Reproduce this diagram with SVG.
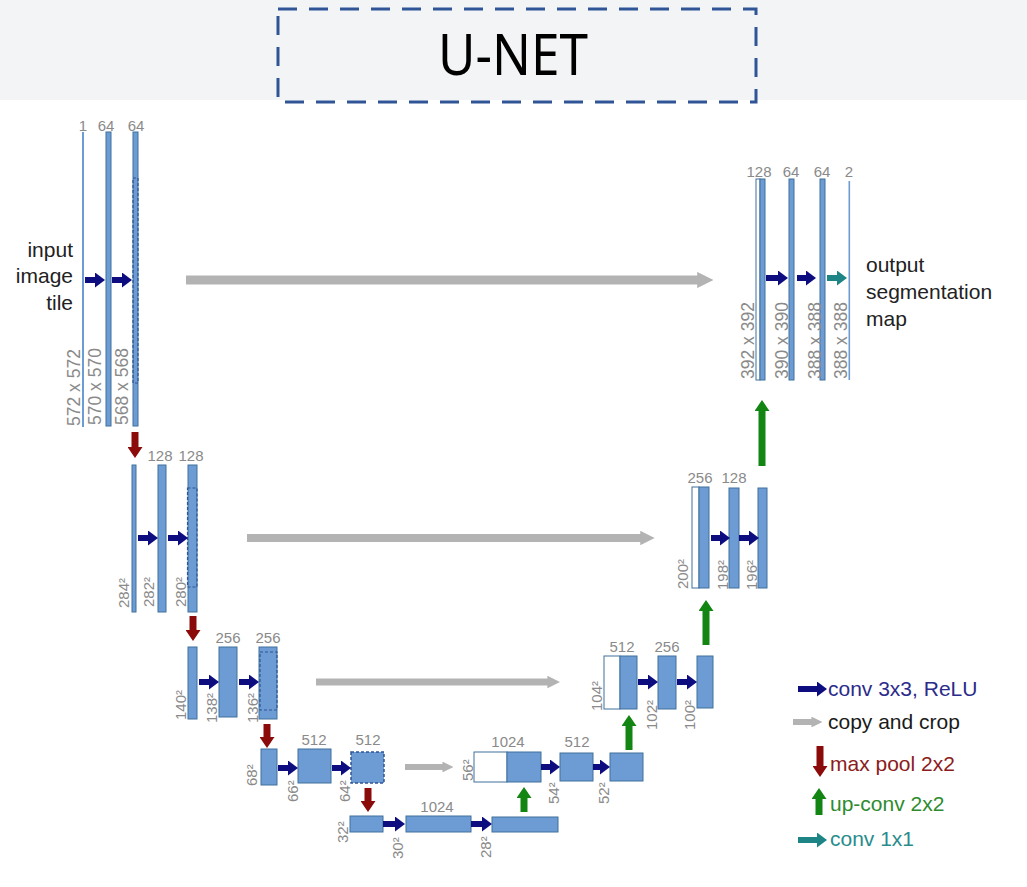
<svg xmlns="http://www.w3.org/2000/svg" width="1027" height="887" viewBox="0 0 1027 887">
<style>
.bar{fill:#6d9bd3;stroke:#41719c;stroke-width:1}
.thin{fill:#6d9bd3}
.wht{fill:#ffffff;stroke:#41719c;stroke-width:1}
.dash{fill:none;stroke:#2f5597;stroke-width:1.2;stroke-dasharray:3 2}
.dashbar{fill:#6d9bd3;stroke:#2f5597;stroke-width:1.5;stroke-dasharray:3 2}
.ch{font-family:"Liberation Sans",Arial,sans-serif;font-size:15px;fill:#8a8a8a;text-anchor:middle}
.v{font-family:"Liberation Sans",Arial,sans-serif;font-size:15px;fill:#8a8a8a}
.vb{font-family:"Liberation Sans",Arial,sans-serif;font-size:17.5px;fill:#8a8a8a}
.side{font-family:"Liberation Sans",Arial,sans-serif;font-size:21px;fill:#222}
.leg{font-family:"Liberation Sans",Arial,sans-serif;font-size:21px}
.conv{stroke:#0d0d80;stroke-width:6;fill:none;marker-end:url(#mConv)}
.c11{stroke:#1d8585;stroke-width:6;fill:none;marker-end:url(#mTeal)}
.pool{stroke:#8b0a0a;stroke-width:7;fill:none;marker-end:url(#mPool)}
.up{stroke:#138513;stroke-width:7;fill:none;marker-end:url(#mUp)}
.copy{stroke:#b3b3b3;fill:none;marker-end:url(#mCopy)}
</style>
<defs>
<marker id="mConv" markerUnits="userSpaceOnUse" markerWidth="10" markerHeight="15" viewBox="0 0 10 15" refX="1" refY="7.5" orient="auto"><path d="M0,0 L10,7.5 L0,15 z" fill="#0d0d80"/></marker>
<marker id="mTeal" markerUnits="userSpaceOnUse" markerWidth="10" markerHeight="15" viewBox="0 0 10 15" refX="1" refY="7.5" orient="auto"><path d="M0,0 L10,7.5 L0,15 z" fill="#1d8585"/></marker>
<marker id="mPool" markerUnits="userSpaceOnUse" markerWidth="11" markerHeight="15" viewBox="0 0 11 15" refX="1" refY="7.5" orient="auto"><path d="M0,0 L11,7.5 L0,15 z" fill="#8b0a0a"/></marker>
<marker id="mUp" markerUnits="userSpaceOnUse" markerWidth="11" markerHeight="15" viewBox="0 0 11 15" refX="1" refY="7.5" orient="auto"><path d="M0,0 L11,7.5 L0,15 z" fill="#138513"/></marker>
<marker id="mCopy" markerUnits="strokeWidth" markerWidth="1.8" markerHeight="1.8" viewBox="0 0 10 10" refX="0.5" refY="5" orient="auto"><path d="M0,0 L10,5 L0,10 z" fill="#b3b3b3"/></marker>
</defs>
<rect x="0" y="0" width="1027" height="887" fill="#ffffff"/>
<rect x="0" y="0" width="1027" height="100" fill="#f3f4f6"/>
<g id="title">
<rect x="278" y="9" width="478" height="93" fill="none" stroke="#2f5597" stroke-width="3" stroke-dasharray="19 12"/>
<text x="513" y="75" text-anchor="middle" font-family="'Noto Sans','Open Sans',sans-serif" font-size="57" fill="#000" textLength="150" lengthAdjust="spacingAndGlyphs">U-NET</text>
</g>

<g id="level1-left">
<rect class="thin" x="82" y="132" width="2" height="295"/>
<rect class="bar" x="106" y="132" width="5" height="294"/>
<rect class="bar" x="133" y="132" width="5" height="294"/>
<rect class="dash" x="133" y="178" width="5" height="205"/>
<text class="ch" x="83" y="131">1</text>
<text class="ch" x="106" y="131">64</text>
<text class="ch" x="136" y="131">64</text>
<text class="vb" transform="translate(80,426) rotate(-90)">572 x 572</text>
<text class="vb" transform="translate(101,425) rotate(-90)">570 x 570</text>
<text class="vb" transform="translate(128,425) rotate(-90)">568 x 568</text>
<text class="side" text-anchor="end" x="73" y="257">input</text>
<text class="side" text-anchor="end" x="73" y="283">image</text>
<text class="side" text-anchor="end" x="73" y="310">tile</text>
</g>

<g id="level2-left">
<rect class="bar" x="132" y="465" width="4" height="147"/>
<rect class="bar" x="158" y="465" width="8" height="147"/>
<rect class="bar" x="188" y="465" width="9" height="147"/>
<rect class="dash" x="187.5" y="488" width="9.5" height="99"/>
<text class="ch" x="160" y="461">128</text>
<text class="ch" x="191" y="461">128</text>
<text class="v" transform="translate(129,608) rotate(-90)">284²</text>
<text class="v" transform="translate(154,607) rotate(-90)">282²</text>
<text class="v" transform="translate(186,607) rotate(-90)">280²</text>
</g>

<g id="level3-left">
<rect class="bar" x="188" y="647" width="9" height="72"/>
<rect class="bar" x="219" y="647" width="18" height="70"/>
<rect class="bar" x="259" y="647" width="18" height="72"/>
<rect class="dash" x="260" y="652" width="17" height="58"/>
<text class="ch" x="228" y="643">256</text>
<text class="ch" x="268" y="643">256</text>
<text class="v" transform="translate(186,720) rotate(-90)">140²</text>
<text class="v" transform="translate(217,723) rotate(-90)">138²</text>
<text class="v" transform="translate(258,723) rotate(-90)">136²</text>
</g>

<g id="level4-left">
<rect class="bar" x="261" y="749" width="16" height="36"/>
<rect class="bar" x="298" y="749" width="33" height="34"/>
<rect class="dashbar" x="351" y="752" width="33" height="31"/>
<text class="ch" x="314" y="745">512</text>
<text class="ch" x="368" y="745">512</text>
<text class="v" transform="translate(257,786) rotate(-90)">68²</text>
<text class="v" transform="translate(298,802) rotate(-90)">66²</text>
<text class="v" transform="translate(350,802) rotate(-90)">64²</text>
</g>

<g id="bottom">
<rect class="bar" x="350" y="816" width="33" height="16"/>
<rect class="bar" x="406" y="816" width="65" height="16"/>
<rect class="bar" x="492" y="817" width="66" height="15"/>
<text class="ch" x="437" y="812">1024</text>
<text class="v" transform="translate(348,843) rotate(-90)">32²</text>
<text class="v" transform="translate(403,859) rotate(-90)">30²</text>
<text class="v" transform="translate(491,858) rotate(-90)">28²</text>
</g>

<g id="level4-right">
<rect class="wht" x="474" y="752" width="33" height="30"/>
<rect class="bar" x="507" y="752" width="34" height="30"/>
<rect class="bar" x="560" y="753" width="33" height="28"/>
<rect class="bar" x="610" y="753" width="33" height="28"/>
<text class="ch" x="508" y="747">1024</text>
<text class="ch" x="577" y="747">512</text>
<text class="v" transform="translate(473,781) rotate(-90)">56²</text>
<text class="v" transform="translate(559,804) rotate(-90)">54²</text>
<text class="v" transform="translate(609,804) rotate(-90)">52²</text>
</g>

<g id="level3-right">
<rect class="wht" x="604" y="656" width="16" height="53"/>
<rect class="bar" x="620" y="656" width="17" height="53"/>
<rect class="bar" x="658" y="656" width="18" height="53"/>
<rect class="bar" x="697" y="656" width="16" height="52"/>
<text class="ch" x="622" y="652">512</text>
<text class="ch" x="667" y="652">256</text>
<text class="v" transform="translate(602,711) rotate(-90)">104²</text>
<text class="v" transform="translate(657,730) rotate(-90)">102²</text>
<text class="v" transform="translate(695,730) rotate(-90)">100²</text>
</g>

<g id="level2-right">
<rect class="wht" x="692" y="487" width="7" height="101"/>
<rect class="bar" x="699" y="487" width="10" height="101"/>
<rect class="bar" x="729" y="488" width="10" height="100"/>
<rect class="bar" x="758" y="488" width="9" height="100"/>
<text class="ch" x="700" y="483">256</text>
<text class="ch" x="734" y="483">128</text>
<text class="v" transform="translate(688,589) rotate(-90)">200²</text>
<text class="v" transform="translate(728,590) rotate(-90)">198²</text>
<text class="v" transform="translate(757,590) rotate(-90)">196²</text>
</g>

<g id="level1-right">
<rect class="wht" x="756" y="179" width="4" height="201"/>
<rect class="bar" x="760" y="179" width="5" height="201"/>
<rect class="bar" x="789" y="179" width="5" height="201"/>
<rect class="bar" x="820" y="179" width="5" height="201"/>
<rect class="thin" x="848.5" y="181" width="1.6" height="199"/>
<text class="ch" x="759" y="177">128</text>
<text class="ch" x="791" y="177">64</text>
<text class="ch" x="822" y="177">64</text>
<text class="ch" x="849" y="177">2</text>
<text class="vb" transform="translate(754,379) rotate(-90)">392 x 392</text>
<text class="vb" transform="translate(788,379) rotate(-90)">390 x 390</text>
<text class="vb" transform="translate(821,379) rotate(-90)">388 x 388</text>
<text class="vb" transform="translate(847,379) rotate(-90)">388 x 388</text>
<text class="side" x="866" y="272">output</text>
<text class="side" x="866" y="299">segmentation</text>
<text class="side" x="866" y="326">map</text>
</g>

<g id="connectors">
<line class="conv" x1="85" y1="280" x2="96" y2="280"/>
<line class="conv" x1="112" y1="280" x2="123" y2="280"/>
<line class="conv" x1="138" y1="538" x2="149" y2="538"/>
<line class="conv" x1="168" y1="538" x2="179" y2="538"/>
<line class="conv" x1="199" y1="682" x2="210" y2="682"/>
<line class="conv" x1="239" y1="682" x2="250" y2="682"/>
<line class="conv" x1="278" y1="768" x2="289" y2="768"/>
<line class="conv" x1="332" y1="768" x2="342" y2="768"/>
<line class="conv" x1="383" y1="824" x2="396" y2="824"/>
<line class="conv" x1="471" y1="824" x2="483" y2="824"/>
<line class="conv" x1="541" y1="767" x2="551" y2="767"/>
<line class="conv" x1="593" y1="767" x2="601" y2="767"/>
<line class="conv" x1="638" y1="682" x2="649" y2="682"/>
<line class="conv" x1="677" y1="682" x2="688" y2="682"/>
<line class="conv" x1="711" y1="538" x2="721" y2="538"/>
<line class="conv" x1="739" y1="538" x2="750" y2="538"/>
<line class="conv" x1="766" y1="278" x2="779" y2="278"/>
<line class="conv" x1="797" y1="278" x2="807" y2="278"/>
<line class="c11" x1="827" y1="278" x2="838" y2="278"/>
<line class="pool" x1="135" y1="432" x2="135" y2="448"/>
<line class="pool" x1="193" y1="616" x2="193" y2="631"/>
<line class="pool" x1="267" y1="724" x2="267" y2="738"/>
<line class="pool" x1="368" y1="788" x2="368" y2="802"/>
<line class="up" x1="524" y1="812" x2="524" y2="797"/>
<line class="up" x1="629" y1="750" x2="629" y2="725"/>
<line class="up" x1="706" y1="645" x2="706" y2="610"/>
<line class="up" x1="762" y1="466" x2="762" y2="410"/>
<line class="copy" stroke-width="9" x1="186" y1="280" x2="698" y2="280"/>
<line class="copy" stroke-width="8" x1="247" y1="538" x2="641" y2="538"/>
<line class="copy" stroke-width="7" x1="316" y1="682" x2="548" y2="682"/>
<line class="copy" stroke-width="6" x1="405" y1="767" x2="443" y2="767"/>
</g>

<g id="legend">
<line class="conv" x1="798" y1="689" x2="818" y2="689"/>
<text class="leg" x="828" y="696" fill="#2b2b8a">conv 3x3, ReLU</text>
<line class="copy" stroke-width="6" x1="793" y1="722" x2="812" y2="722"/>
<text class="leg" x="828" y="729" fill="#1a1a1a">copy and crop</text>
<line class="pool" x1="820" y1="746" x2="820" y2="767"/>
<text class="leg" x="830" y="771" fill="#8b1c1c">max pool 2x2</text>
<line class="up" x1="819" y1="815" x2="819" y2="798"/>
<text class="leg" x="830" y="811" fill="#2e8b2e">up-conv 2x2</text>
<line class="c11" x1="798" y1="840" x2="818" y2="840"/>
<text class="leg" x="830" y="846" fill="#2a8c8c">conv 1x1</text>
</g>
</svg>
